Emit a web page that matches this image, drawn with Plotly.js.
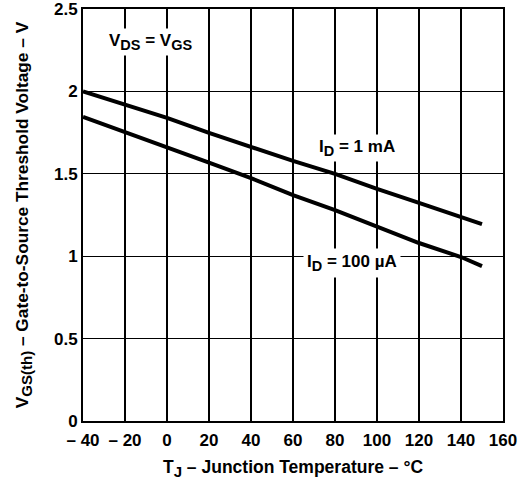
<!DOCTYPE html>
<html>
<head>
<meta charset="utf-8">
<script src="https://cdn.plot.ly/plotly-3.0.1.min.js"></script>
<style>html,body{margin:0;padding:0;background:#fff;}#chart{width:521px;height:480px;}</style>
</head>
<body>
<div id="chart"></div>
<script>
const tempC = [-40, -20, 0, 20, 40, 60, 80, 100, 120, 140, 150];
const vth1mA = [2.0, 1.917, 1.839, 1.748, 1.663, 1.578, 1.50, 1.408, 1.323, 1.238, 1.195];
const vth100uA = [1.845, 1.754, 1.663, 1.568, 1.474, 1.37, 1.28, 1.177, 1.08, 0.995, 0.94];
const xTickVals = [-40, -20, 0, 20, 40, 60, 80, 100, 120, 140, 160];
const xTickText = ['– 40', '– 20', '0', '20', '40', '60', '80', '100', '120', '140', '160'];
const yTickVals = [0, 0.5, 1, 1.5, 2, 2.5];
const yTickText = ['0', '0.5', '1', '1.5', '2', '2.5'];

const fam = 'Liberation Sans, Arial, Helvetica, sans-serif';
const lineStyle = {color: '#000', width: 4};
const sub = (s, px) => '<sub><span style="font-size:' + px + 'px">' + s + '</span></sub>';

const traces = [
  {x: tempC, y: vth1mA, mode: 'lines', line: lineStyle, name: 'ID = 1 mA', hoverinfo: 'skip'},
  {x: tempC, y: vth100uA, mode: 'lines', line: lineStyle, name: 'ID = 100 µA', hoverinfo: 'skip'}
];

const axisCommon = {
  showgrid: true, gridcolor: '#000', gridwidth: 1.3,
  showline: true, linecolor: '#000', linewidth: 2, mirror: true,
  zeroline: false, ticks: '', fixedrange: true, ticklabeloverflow: 'allow',
  tickfont: {family: fam, size: 17, color: '#000', weight: 'bold'}
};

const layout = {
  width: 521, height: 480,
  margin: {l: 83, r: 18, t: 9, b: 59},
  paper_bgcolor: '#fff', plot_bgcolor: '#fff',
  showlegend: false,
  xaxis: Object.assign({}, axisCommon, {
    range: [-40, 160], tickvals: xTickVals, ticktext: xTickText, ticklabelstandoff: 3,
    title: {text: 'T' + sub('J', 15) + ' – Junction Temperature – °C', font: {family: fam, size: 17.5, color: '#000', weight: 'bold'}, standoff: 12}
  }),
  yaxis: Object.assign({}, axisCommon, {
    range: [0, 2.5], tickvals: yTickVals, ticktext: yTickText,
    title: {text: 'V' + sub('GS(th)', 15) + ' – Gate-to-Source Threshold Voltage – V', font: {family: fam, size: 17.3, color: '#000', weight: 'bold'}, standoff: 21}
  }),
  annotations: [
    {x: -8, y: 2.30, xref: 'x', yref: 'y', text: 'V' + sub('DS', 14.5) + ' = V' + sub('GS', 14.5), showarrow: false,
     font: {family: fam, size: 17, color: '#000', weight: 'bold'}, bgcolor: '#fff', borderpad: 2},
    {x: 90.5, y: 1.655, xref: 'x', yref: 'y', text: 'I' + sub('D', 14.5) + ' = 1 mA', showarrow: false,
     font: {family: fam, size: 17, color: '#000', weight: 'bold'}, bgcolor: '#fff', borderpad: 2},
    {x: 88, y: 0.96, xref: 'x', yref: 'y', text: 'I' + sub('D', 14.5) + ' = 100 µA', showarrow: false,
     font: {family: fam, size: 17, color: '#000', weight: 'bold'}, bgcolor: '#fff', borderpad: 3}
  ]
};

Plotly.newPlot('chart', traces, layout, {displayModeBar: false, staticPlot: true});
</script>
</body>
</html>
